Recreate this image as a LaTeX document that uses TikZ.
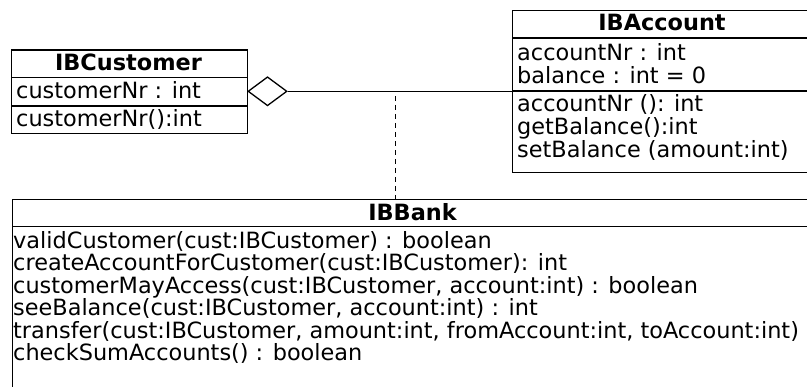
\documentclass[tikz,border=0pt]{standalone}
\usepackage{fontspec}
\setmainfont{DejaVu Sans}
\usetikzlibrary{shapes.geometric}
\begin{document}
\begin{tikzpicture}[x=1pt,y=-1pt,
  comp/.style={draw=black, line width=1.3pt, anchor=north west, inner sep=0pt, minimum width=#1},
  txt/.style={inner sep=0pt, anchor=base west, font=\fontsize{22.4}{26}\selectfont},
  title/.style={inner sep=0pt, anchor=base, font=\fontsize{22.4}{26}\selectfont\bfseries},
  conn/.style={draw=black, line width=1.3pt}]
\useasboundingbox (0,0) rectangle (807,387);
\clip (0,0) rectangle (807,387);
\fill[white] (0,0) rectangle (807,387);
% IBCustomer
\node[comp=236pt, minimum height=27.7pt] (custHead) at (11,49.3) {};
\node[comp=236pt, minimum height=28.3pt] (custAttr) at (11,77) {};
\node[comp=236pt, minimum height=27.7pt] (custOps) at (11,105.3) {};
\node[title] (custTitle) at (128.5,71) {IBCustomer};
\node[txt] (custA1) at (16,99) {customerNr : int};
\node[txt] (custO1) at (16,126.5) {customerNr():int};
% IBAccount
\node[comp=295pt, minimum height=27.5pt] (accHead) at (511.7,10) {};
\node[comp=295pt, minimum height=53pt] (accAttr) at (511.7,37.5) {};
\node[comp=295pt, minimum height=81.2pt] (accOps) at (511.7,90.5) {};
\node[title] (accTitle) at (662,31) {IBAccount};
\node[txt] (accA1) at (517,60.5) {accountNr : int};
\node[txt] (accA2) at (517,83.5) {balance : int = 0};
\node[txt] (accO1) at (517,112) {accountNr (): int};
\node[txt] (accO2) at (517,135) {getBalance():int};
\node[txt] (accO3) at (517,158) {setBalance (amount:int)};
% IBBank
\node[comp=802pt, minimum height=27pt] (bankHead) at (12,199) {};
\node[comp=802pt, minimum height=200pt] (bankOps) at (12,226) {};
\node[title] (bankTitle) at (412.5,220.7) {IBBank};
\node[txt] (bankO1) at (13,248.5) {validCustomer(cust:IBCustomer) : boolean};
\node[txt] (bankO2) at (13,271) {createAccountForCustomer(cust:IBCustomer): int};
\node[txt] (bankO3) at (13,293.5) {customerMayAccess(cust:IBCustomer, account:int) : boolean};
\node[txt] (bankO4) at (13,316) {seeBalance(cust:IBCustomer, account:int) : int};
\node[txt] (bankO5) at (13,338.5) {transfer(cust:IBCustomer, amount:int, fromAccount:int, toAccount:int)};
\node[txt] (bankO6) at (13,361) {checkSumAccounts() : boolean};
% aggregation
\node[diamond, draw=black, line width=1.3pt, fill=white, inner sep=0pt, minimum width=39pt, minimum height=29pt] (agg) at (267.5,91.3) {};
\draw[conn] (agg.east) -- (agg.east -| accAttr.west);
% dashed dependency
\coordinate (dtop) at (395.5,96);
\draw[conn, line width=1.2pt, dash pattern=on 5pt off 4pt] (dtop) -- (dtop |- bankHead.north);
\end{tikzpicture}
\end{document}
